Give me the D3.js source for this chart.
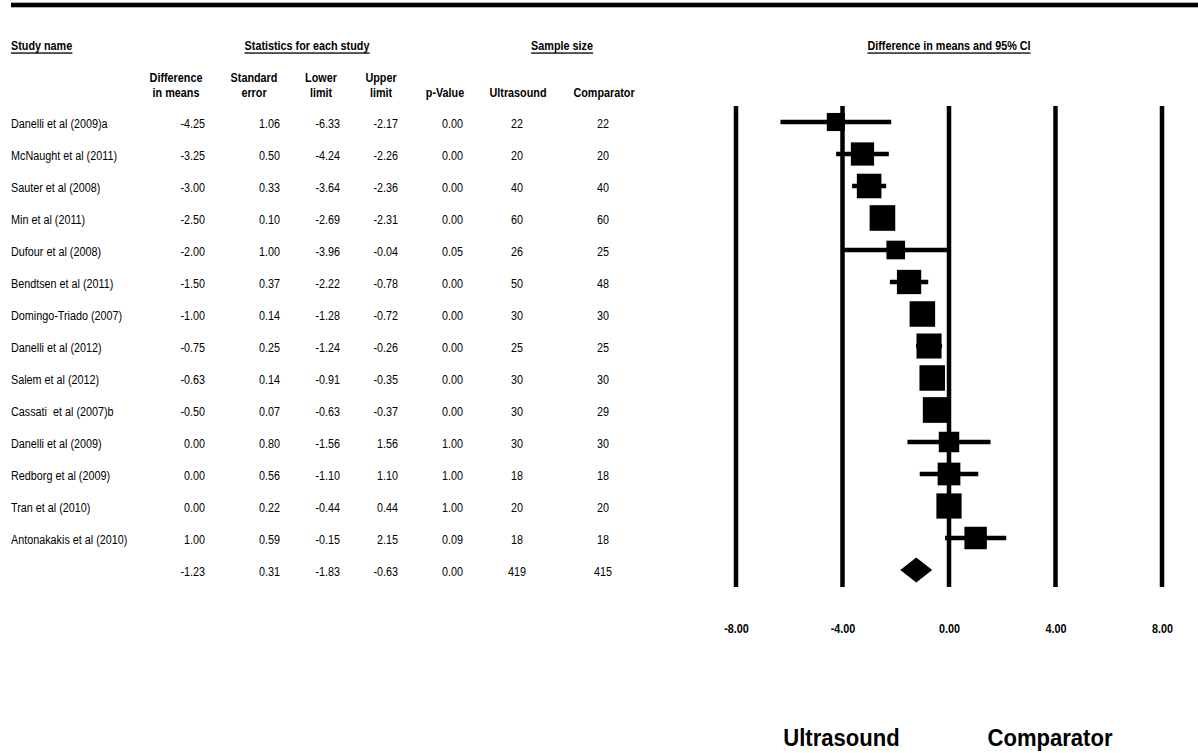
<!DOCTYPE html>
<html>
<head>
<meta charset="utf-8">
<script src="https://cdn.jsdelivr.net/npm/d3@7"></script>
<style>
  html, body { margin: 0; padding: 0; background: #fff; }
  svg text { font-family: "Liberation Sans", Arial, sans-serif; fill: #000; }
</style>
</head>
<body>
<svg id="chart" width="1198" height="753"></svg>
<script>
// ---- data ----
const studies = [
  "Danelli et al (2009)a", "McNaught et al (2011)", "Sauter et al (2008)", "Min et al (2011)",
  "Dufour et al (2008)", "Bendtsen et al (2011)", "Domingo-Triado (2007)", "Danelli et al (2012)",
  "Salem et al (2012)", "Cassati  et al (2007)b", "Danelli et al (2009)", "Redborg et al (2009)",
  "Tran et al (2010)", "Antonakakis et al (2010)"
];
const diffMeans = [-4.25, -3.25, -3.00, -2.50, -2.00, -1.50, -1.00, -0.75, -0.63, -0.50, 0.00, 0.00, 0.00, 1.00];
const stdErr    = [1.06, 0.50, 0.33, 0.10, 1.00, 0.37, 0.14, 0.25, 0.14, 0.07, 0.80, 0.56, 0.22, 0.59];
const lowerLim  = [-6.33, -4.24, -3.64, -2.69, -3.96, -2.22, -1.28, -1.24, -0.91, -0.63, -1.56, -1.10, -0.44, -0.15];
const upperLim  = [-2.17, -2.26, -2.36, -2.31, -0.04, -0.78, -0.72, -0.26, -0.35, -0.37, 1.56, 1.10, 0.44, 2.15];
const pValues   = [0.00, 0.00, 0.00, 0.00, 0.05, 0.00, 0.00, 0.00, 0.00, 0.00, 1.00, 1.00, 1.00, 0.09];
const nUltrasound = [22, 20, 40, 60, 26, 50, 30, 25, 30, 30, 30, 18, 20, 18];
const nComparator = [22, 20, 40, 60, 25, 48, 30, 25, 30, 29, 30, 18, 20, 18];
const summary = { diff: -1.23, se: 0.31, lower: -1.83, upper: -0.63, p: 0.00, nU: 419, nC: 415 };
const tau2 = 1.1; // between-study variance used for random-effects weights
const axisTicks = [-8, -4, 0, 4, 8];

// ---- helpers ----
const svg = d3.select("#chart");
const f2 = d3.format(".2f");
const fmt = v => f2(v).replace("\u2212", "-");
const FS = 13.5, SX = 0.8; // narrow-font emulation

function txt(parent, x, y, s, o = {}) {
  const size = o.size || FS, sx = o.sx || SX;
  return parent.append("text")
    .attr("transform", `translate(${x},${y}) scale(${sx},1)`)
    .attr("text-anchor", o.anchor || "start")
    .attr("font-size", size)
    .attr("font-weight", o.weight || "normal")
    .attr("xml:space", "preserve")
    .text(s);
}

// ---- scales ----
const x = d3.scaleLinear().domain([-8, 8]).range([736, 1162]);
const rowIdx = d3.range(studies.length + 1);
const y = d3.scalePoint().domain(rowIdx).range([122, 570]);

// top bar
svg.append("rect").attr("x", 11).attr("y", 2.7).attr("width", 1187).attr("height", 4.6).attr("fill", "#000");

// group headers (underlined)
const groupHeads = [
  { t: "Study name", x: 11, anchor: "start" },
  { t: "Statistics for each study", x: 307, anchor: "middle" },
  { t: "Sample size", x: 562, anchor: "middle" },
  { t: "Difference in means and 95% CI", x: 949, anchor: "middle" }
];
groupHeads.forEach(h => {
  const t = txt(svg, h.x, 50, h.t, { anchor: h.anchor, weight: "bold" });
  const bb = t.node().getBBox();
  svg.append("rect").attr("x", h.x + bb.x * SX).attr("y", 52.4)
    .attr("width", bb.width * SX).attr("height", 1.3).attr("fill", "#000");
});

// column headers
const colHeads = [
  { l: ["Difference", "in means"], x: 176 },
  { l: ["Standard", "error"], x: 254 },
  { l: ["Lower", "limit"], x: 321 },
  { l: ["Upper", "limit"], x: 381 },
  { l: ["p-Value"], x: 445 },
  { l: ["Ultrasound"], x: 518 },
  { l: ["Comparator"], x: 604 }
];
colHeads.forEach(c => {
  c.l.forEach((s, i) => {
    const by = c.l.length === 2 ? (i === 0 ? 82 : 97) : 97;
    txt(svg, c.x, by, s, { anchor: "middle", weight: "bold" });
  });
});

// table rows
const rows = studies.map((s, i) => ({
  name: s, d: diffMeans[i], se: stdErr[i], lo: lowerLim[i], hi: upperLim[i],
  p: pValues[i], nU: nUltrasound[i], nC: nComparator[i], i: i
}));
const allRows = rows.concat([{ name: "", d: summary.diff, se: summary.se, lo: summary.lower, hi: summary.upper,
  p: summary.p, nU: summary.nU, nC: summary.nC, i: studies.length }]);

const cols = [
  { key: r => r.name, x: 11, anchor: "start" },
  { key: r => fmt(r.d), x: 205, anchor: "end" },
  { key: r => fmt(r.se), x: 280, anchor: "end" },
  { key: r => fmt(r.lo), x: 340, anchor: "end" },
  { key: r => fmt(r.hi), x: 398, anchor: "end" },
  { key: r => fmt(r.p), x: 463, anchor: "end" },
  { key: r => String(r.nU), x: 517, anchor: "middle" },
  { key: r => String(r.nC), x: 603, anchor: "middle" }
];
const rowG = svg.append("g");
cols.forEach(c => {
  rowG.selectAll(null).data(allRows).enter().append("text")
    .attr("transform", r => `translate(${c.x},${y(r.i) + 5.5}) scale(${SX},1)`)
    .attr("text-anchor", c.anchor).attr("font-size", FS)
    .attr("xml:space", "preserve")
    .text(c.key);
});

// forest plot
const plot = svg.append("g");
const weights = rows.map(r => 1 / (r.se * r.se + tau2));
const size = d3.scaleSqrt().domain([0, d3.max(weights)]).range([0, 25.7]);

plot.selectAll(".ci").data(rows).enter().append("line")
  .attr("x1", r => x(r.lo)).attr("x2", r => x(r.hi))
  .attr("y1", r => y(r.i)).attr("y2", r => y(r.i))
  .attr("stroke", "#000").attr("stroke-width", 4.3);

plot.selectAll(".sq").data(rows).enter().append("rect")
  .attr("x", (r, i) => x(r.d) - size(weights[i]) / 2)
  .attr("y", (r, i) => y(r.i) - size(weights[i]) / 2)
  .attr("width", (r, i) => size(weights[i]))
  .attr("height", (r, i) => size(weights[i]))
  .attr("fill", "#000");

// vertical reference lines
plot.selectAll(".vl").data(axisTicks).enter().append("line")
  .attr("x1", d => x(d)).attr("x2", d => x(d))
  .attr("y1", 106).attr("y2", 587)
  .attr("stroke", "#000").attr("stroke-width", 4.5);

// summary diamond
const sy = y(studies.length);
plot.append("path")
  .attr("d", `M${x(summary.lower)},${sy} L${x(summary.diff)},${sy - 12.5} L${x(summary.upper)},${sy} L${x(summary.diff)},${sy + 12.5} Z`)
  .attr("fill", "#000");

// axis
const axis = d3.axisBottom(x).tickValues(axisTicks).tickFormat(fmt).tickSize(0).tickPadding(3);
const ag = svg.append("g").attr("transform", "translate(0,620)").call(axis);
ag.select(".domain").remove();
ag.selectAll("text")
  .attr("font-size", FS).attr("font-weight", "bold")
  .attr("transform", `scale(${SX},1)`)
  .style("font-family", '"Liberation Sans", Arial, sans-serif');

// favour labels
txt(svg, 841.5, 746, "Ultrasound", { anchor: "middle", weight: "bold", size: 24, sx: 0.92 });
txt(svg, 1050, 746, "Comparator", { anchor: "middle", weight: "bold", size: 24, sx: 0.92 });
</script>
</body>
</html>
